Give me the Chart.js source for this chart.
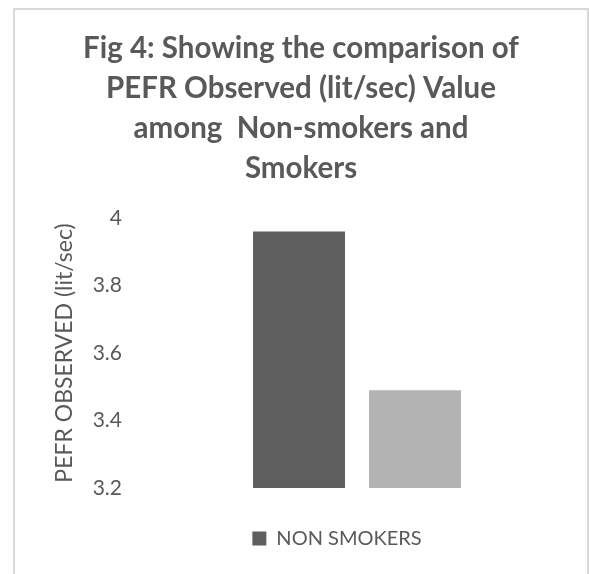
<!DOCTYPE html>
<html>
<head>
<meta charset="utf-8">
<title>PEFR Observed</title>
<script src="https://cdn.jsdelivr.net/npm/chart.js@4"></script>
<style>
  html, body { margin: 0; padding: 0; background: #ffffff; }
  #wrap { position: relative; width: 589px; height: 574px; overflow: hidden; }
  #frame { position: absolute; left: 13px; top: 8px; width: 576px; height: 600px;
           border: 2px solid #d9d9d9; box-sizing: border-box; }
  #chart-box { position: absolute; left: 0; top: 0; width: 589px; height: 574px; }
</style>
</head>
<body>
<div id="wrap">
  <div id="frame"></div>
  <div id="chart-box"><canvas id="c"></canvas></div>
</div>
<script>
// Chart text
const titleLines = [
  'Fig 4: Showing the comparison of',
  'PEFR Observed (lit/sec) Value',
  'among  Non-smokers and',
  'Smokers'
];
const yAxisTitle = 'PEFR OBSERVED (lit/sec)';

// Data
const categories = [''];
const seriesNames = ['NON SMOKERS', 'SMOKERS'];
const nonSmokers = [3.96];
const smokers = [3.49];
const seriesColors = ['#5f5f5f', '#b3b3b3'];

// Value axis
const yMin = 3.2;
const yMax = 4;
const yStep = 0.2;

const textColor = '#595959';
const baseFont = 'Lato, "Open Sans", sans-serif';

// Only the first series is listed in the legend; nudge the legend block to the right
const legendShift = {
  id: 'legendShift',
  afterLayout(chart) {
    if (chart.legend) chart.legend.left += 72;
  }
};

new Chart(document.getElementById('c'), {
  type: 'bar',
  data: {
    labels: categories,
    datasets: [
      { label: seriesNames[0], data: nonSmokers, backgroundColor: seriesColors[0], borderWidth: 0 },
      { label: seriesNames[1], data: smokers, backgroundColor: seriesColors[1], borderWidth: 0 }
    ]
  },
  options: {
    responsive: true,
    maintainAspectRatio: false,
    animation: false,
    layout: { padding: { left: 13, right: 0, top: 0, bottom: 15.5 } },
    datasets: { bar: { categoryPercentage: 0.5, barPercentage: 0.793 } },
    plugins: {
      title: {
        display: true,
        text: titleLines,
        color: textColor,
        font: { family: baseFont, size: 29.5, weight: 'bold', lineHeight: 40 / 29.5 },
        padding: { top: 28, bottom: 30 }
      },
      legend: {
        display: true,
        position: 'bottom',
        labels: {
          filter: item => item.datasetIndex === 0,
          boxWidth: 14,
          boxHeight: 14,
          padding: 10,
          color: textColor,
          font: { family: baseFont, size: 20 }
        }
      },
      tooltip: { enabled: false }
    },
    scales: {
      x: {
        display: true,
        grid: { display: false },
        border: { display: false },
        ticks: { display: false },
        afterFit: s => { s.height = 30.5; }
      },
      y: {
        min: yMin,
        max: yMax,
        grid: { display: false },
        border: { display: false },
        ticks: {
          stepSize: yStep,
          padding: -5,
          color: textColor,
          font: { family: baseFont, size: 21 },
          callback: v => String(+Number(v).toFixed(1))
        },
        title: {
          display: true,
          text: yAxisTitle,
          color: textColor,
          font: { family: baseFont, size: 23 },
          padding: { top: 38, bottom: 0 }
        },
        afterFit: s => { s.width = 112; }
      }
    }
  },
  plugins: [legendShift]
});
</script>
</body>
</html>
